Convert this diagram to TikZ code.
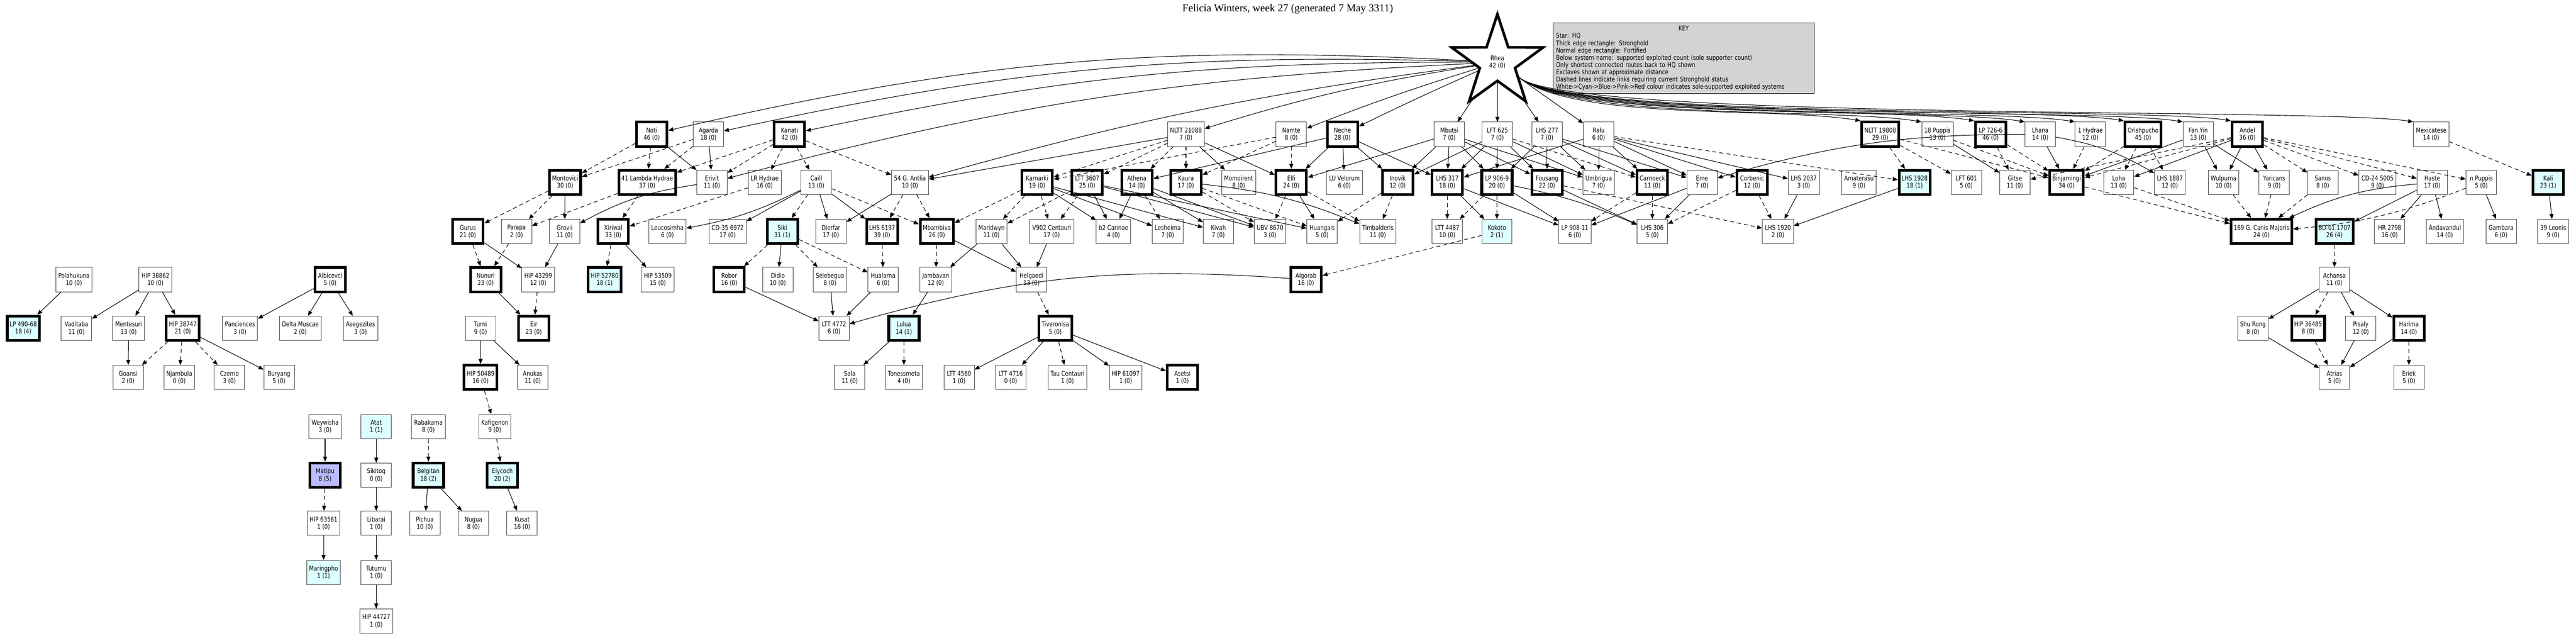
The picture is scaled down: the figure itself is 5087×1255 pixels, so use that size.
\documentclass[tikz,border=0pt]{standalone}
\usepackage{fontspec}
\setmainfont{Liberation Serif}
\newfontfamily\sysfont{DejaVu Sans}[FakeStretch=0.82]
\usetikzlibrary{arrows.meta, shapes.geometric}

\definecolor{solecyan}{HTML}{DDFFFF}
\definecolor{soleblue}{HTML}{BBBBFF}
\definecolor{keygrey}{HTML}{D3D3D3}

\begin{document}
\begin{tikzpicture}[
    x=0.5pt, y=-0.5pt,
    every node/.style={font=\sysfont\fontsize{6.5}{7.2}\selectfont, align=center},
    sys/.style={draw=black!75, line width=0.5pt, fill=white, rectangle,
        minimum width=30pt, minimum height=24pt, inner sep=2.5pt},
    strong/.style={sys, draw=black, line width=2.6pt},
    cyanfill/.style={fill=solecyan},
    bluefill/.style={fill=soleblue},
    hq/.style={star, star points=5, star point ratio=2.6, draw, line width=2.6pt,
        fill=white, minimum size=95pt, inner sep=0pt},
    link/.style={-{Triangle[length=5pt,width=4pt]}, line width=0.55pt},
    dlink/.style={link, dash pattern=on 4pt off 3pt},
]
  \useasboundingbox (0,0) rectangle (5087,1255);

  % TITLE AND KEY
  \node[font=\fontsize{10.5}{12}\selectfont] (title) at (2543,18)
    {Felicia Winters, week 27 (generated 7 May 3311)};
  \node[draw, fill=keygrey, line width=0.5pt, align=left, text width=252pt,
        minimum height=65pt, inner sep=3pt] (key) at (3325,115)
    {\makebox[252pt]{KEY}\\
     Star: HQ\\
     Thick edge rectangle: Stronghold\\
     Normal edge rectangle: Fortified\\
     Below system name: supported exploited count (sole supporter count)\\
     Only shortest connected routes back to HQ shown\\
     Exclaves shown at approximate distance\\
     Dashed lines indicate links requiring current Stronghold status\\
     White->Cyan->Blue->Pink->Red colour indicates sole-supported exploited systems};

  \node[hq] (rhea) at (2957,123) {Rhea\\42 (0)};

  % FIRST RING
  \node[strong] (noti) at (1287,265) {Noti\\46 (0)};
  \node[sys] (agarda) at (1399,265) {Agarda\\18 (0)};
  \node[strong] (kanati) at (1559,265) {Kanati\\42 (0)};
  \node[sys] (nlttA) at (2342,265) {NLTT 21088\\7 (0)};
  \node[sys] (namte) at (2550,265) {Namte\\8 (0)};
  \node[strong] (neche) at (2651,265) {Neche\\28 (0)};
  \node[sys] (mbutsi) at (2862,265) {Mbutsi\\7 (0)};
  \node[sys] (lft625) at (2957,265) {LFT 625\\7 (0)};
  \node[sys] (lhs277) at (3055,265) {LHS 277\\7 (0)};
  \node[sys] (ralu) at (3157,265) {Ralu\\6 (0)};
  \node[strong] (nlttB) at (3713,265) {NLTT 19808\\29 (0)};
  \node[sys] (pup18) at (3826,265) {18 Puppis\\13 (0)};
  \node[strong] (lp726) at (3931,265) {LP 726-6\\46 (0)};
  \node[sys] (lhana) at (4029,265) {Lhana\\14 (0)};
  \node[sys] (hyd1) at (4128,265) {1 Hydrae\\12 (0)};
  \node[strong] (orish) at (4232,265) {Orishpucho\\45 (0)};
  \node[sys] (fanyin) at (4341,265) {Fan Yin\\13 (0)};
  \node[strong] (andel) at (4438,265) {Andel\\36 (0)};
  \node[sys] (mexi) at (4801,265) {Mexicatese\\14 (0)};

  % SECOND RING
  \node[strong] (montovici) at (1116,360) {Montovici\\30 (0)};
  \node[strong] (lambda) at (1278,360) {41 Lambda Hydrae\\37 (0)};
  \node[sys] (erivit) at (1406,360) {Erivit\\11 (0)};
  \node[sys] (lrhyd) at (1510,360) {LR Hydrae\\16 (0)};
  \node[sys] (caill) at (1612,360) {Caill\\13 (0)};
  \node[sys] (antlia) at (1797,360) {54 G. Antlia\\10 (0)};
  \node[strong] (karnarki) at (2048,360) {Karnarki\\19 (0)};
  \node[strong] (ltt3607) at (2147,360) {LTT 3607\\25 (0)};
  \node[strong] (athena) at (2245,360) {Athena\\14 (0)};
  \node[strong] (kaura) at (2342,360) {Kaura\\17 (0)};
  \node[sys] (momoirent) at (2446,360) {Momoirent\\8 (0)};
  \node[strong] (elli) at (2550,360) {Elli\\24 (0)};
  \node[sys] (luvel) at (2655,360) {LU Velorum\\6 (0)};
  \node[strong] (inovik) at (2760,360) {Inovik\\12 (0)};
  \node[strong] (lhs317) at (2858,360) {LHS 317\\18 (0)};
  \node[strong] (lp906) at (2956,360) {LP 906-9\\20 (0)};
  \node[strong] (fousang) at (3055,360) {Fousang\\22 (0)};
  \node[sys] (umbrigua) at (3157,360) {Umbrigua\\7 (0)};
  \node[strong] (carnoeck) at (3263,360) {Carnoeck\\11 (0)};
  \node[sys] (eme) at (3361,360) {Eme\\7 (0)};
  \node[strong] (corbenic) at (3460,360) {Corbenic\\12 (0)};
  \node[sys] (lhs2037) at (3562,360) {LHS 2037\\3 (0)};
  \node[sys] (amaterasu) at (3671,360) {Amaterasu\\9 (0)};
  \node[strong, cyanfill] (lhs1928) at (3781,360) {LHS 1928\\18 (1)};
  \node[sys] (lft601) at (3883,360) {LFT 601\\5 (0)};
  \node[sys] (gitse) at (3979,360) {Gitse\\11 (0)};
  \node[strong] (binjamingi) at (4081,360) {Binjamingi\\34 (0)};
  \node[sys] (loha) at (4184,360) {Loha\\13 (0)};
  \node[sys] (lhs1887) at (4285,360) {LHS 1887\\12 (0)};
  \node[sys] (wulpurna) at (4391,360) {Wulpurna\\10 (0)};
  \node[sys] (yaricans) at (4491,360) {Yaricans\\9 (0)};
  \node[sys] (sanos) at (4587,360) {Sanos\\8 (0)};
  \node[sys] (cd24) at (4695,360) {CD-24 5005\\9 (0)};
  \node[sys] (haste) at (4803,360) {Haste\\17 (0)};
  \node[sys] (npup) at (4900,360) {n Puppis\\5 (0)};
  \node[strong, cyanfill] (kali) at (5032,360) {Kali\\23 (1)};

  % THIRD RING
  \node[strong] (gurus) at (924,457) {Gurus\\21 (0)};
  \node[sys] (parapa) at (1020,457) {Parapa\\2 (0)};
  \node[sys] (grovii) at (1115,457) {Grovii\\11 (0)};
  \node[strong] (xiriwal) at (1211,457) {Xiriwal\\33 (0)};
  \node[sys] (leuco) at (1318,457) {Leucosimha\\6 (0)};
  \node[sys] (cd35) at (1437,457) {CD-35 6972\\17 (0)};
  \node[strong, cyanfill] (siki) at (1545,457) {Siki\\31 (1)};
  \node[sys] (dierfar) at (1641,457) {Dierfar\\17 (0)};
  \node[strong] (lhs6197) at (1742,457) {LHS 6197\\39 (0)};
  \node[strong] (mbambiva) at (1850,457) {Mbambiva\\26 (0)};
  \node[sys] (maridwyn) at (1958,457) {Maridwyn\\11 (0)};
  \node[sys] (v902) at (2077,457) {V902 Centauri\\17 (0)};
  \node[sys] (carinae) at (2199,457) {b2 Carinae\\4 (0)};
  \node[sys] (lesheima) at (2306,457) {Lesheima\\7 (0)};
  \node[sys] (kivah) at (2406,457) {Kivah\\7 (0)};
  \node[sys] (ubv) at (2508,457) {UBV 8670\\3 (0)};
  \node[sys] (huangais) at (2611,457) {Huangais\\5 (0)};
  \node[sys] (timbal) at (2721,457) {Timbalderis\\11 (0)};
  \node[sys] (ltt4487) at (2858,457) {LTT 4487\\10 (0)};
  \node[sys, cyanfill] (kokoto) at (2956,457) {Kokoto\\2 (1)};
  \node[sys] (lp908) at (3110,457) {LP 908-11\\6 (0)};
  \node[sys] (lhs306) at (3263,457) {LHS 306\\5 (0)};
  \node[sys] (lhs1920) at (3511,457) {LHS 1920\\2 (0)};
  \node[strong] (canis) at (4466,457) {169 G. Canis Majoris\\24 (0)};
  \node[strong, cyanfill] (bd01) at (4610,457) {BD-01 1707\\26 (4)};
  \node[sys] (hr2798) at (4719,457) {HR 2798\\16 (0)};
  \node[sys] (andav) at (4828,457) {Andavandul\\14 (0)};
  \node[sys] (gambara) at (4939,457) {Gambara\\6 (0)};
  \node[sys] (leonis) at (5042,457) {39 Leonis\\9 (0)};

  % FOURTH RING
  \node[sys] (polahukuna) at (146,552) {Polahukuna\\10 (0)};
  \node[sys] (hip38862) at (307,552) {HIP 38862\\10 (0)};
  \node[strong] (albicevci) at (652,552) {Albicevci\\5 (0)};
  \node[strong] (nunuri) at (959,552) {Nunuri\\23 (0)};
  \node[sys] (hip43299) at (1063,552) {HIP 43299\\12 (0)};
  \node[strong, cyanfill] (hip52780) at (1194,552) {HIP 52780\\18 (1)};
  \node[sys] (hip53509) at (1299,552) {HIP 53509\\15 (0)};
  \node[strong] (robor) at (1440,552) {Robor\\16 (0)};
  \node[sys] (didio) at (1536,552) {Didio\\10 (0)};
  \node[sys] (selebegua) at (1639,552) {Selebegua\\8 (0)};
  \node[sys] (hualarna) at (1744,552) {Hualarna\\6 (0)};
  \node[sys] (jambavan) at (1848,552) {Jambavan\\12 (0)};
  \node[sys] (helgaedi) at (2037,552) {Helgaedi\\13 (0)};
  \node[strong] (algorab) at (2579,552) {Algorab\\16 (0)};
  \node[sys] (achansa) at (4610,552) {Achansa\\11 (0)};

  % FIFTH RING
  \node[strong, cyanfill] (lp490) at (46,648) {LP 490-68\\18 (4)};
  \node[sys] (vaditaba) at (151,648) {Vaditaba\\11 (0)};
  \node[sys] (mentesuri) at (254,648) {Mentesuri\\13 (0)};
  \node[strong] (hip38747) at (361,648) {HIP 38747\\21 (0)};
  \node[sys] (panciences) at (474,648) {Panciences\\3 (0)};
  \node[sys] (deltamus) at (593,648) {Delta Muscae\\2 (0)};
  \node[sys] (asegezites) at (712,648) {Asegezites\\3 (0)};
  \node[sys] (turni) at (949,648) {Turni\\9 (0)};
  \node[strong] (eir) at (1054,648) {Eir\\23 (0)};
  \node[sys] (ltt4772) at (1647,648) {LTT 4772\\6 (0)};
  \node[strong, cyanfill] (lulua) at (1785,648) {Lulua\\14 (1)};
  \node[strong] (tiveronisa) at (2084,648) {Tiveronisa\\5 (0)};
  \node[sys] (shurong) at (4449,648) {Shu Rong\\8 (0)};
  \node[strong] (hip36485) at (4558,648) {HIP 36485\\8 (0)};
  \node[sys] (pisaly) at (4662,648) {Pisaly\\12 (0)};
  \node[strong] (harima) at (4757,648) {Harima\\14 (0)};

  % SIXTH RING AND BELOW
  \node[sys] (goansi) at (253,745) {Goansi\\2 (0)};
  \node[sys] (njambula) at (354,745) {Njambula\\0 (0)};
  \node[sys] (czerno) at (453,745) {Czerno\\3 (0)};
  \node[sys] (buryang) at (551,745) {Buryang\\5 (0)};
  \node[strong] (hip50489) at (949,745) {HIP 50489\\16 (0)};
  \node[sys] (anukas) at (1052,745) {Anukas\\11 (0)};
  \node[sys] (sala) at (1678,745) {Sala\\11 (0)};
  \node[sys] (tonessmeta) at (1785,745) {Tonessmeta\\4 (0)};
  \node[sys] (ltt4560) at (1894,745) {LTT 4560\\1 (0)};
  \node[sys] (ltt4716) at (1996,745) {LTT 4716\\0 (0)};
  \node[sys] (taucen) at (2108,745) {Tau Centauri\\1 (0)};
  \node[sys] (hip61097) at (2223,745) {HIP 61097\\1 (0)};
  \node[strong] (asetsi) at (2335,745) {Asetsi\\1 (0)};
  \node[sys] (atrias) at (4610,745) {Atrias\\5 (0)};
  \node[sys] (eriek) at (4757,745) {Eriek\\5 (0)};

  \node[sys] (weywisha) at (642,842) {Weywisha\\3 (0)};
  \node[sys, cyanfill] (atat) at (743,842) {Atat\\1 (1)};
  \node[sys] (rabakama) at (846,842) {Rabakama\\8 (0)};
  \node[sys] (kafigenon) at (977,842) {Kafigenon\\9 (0)};
  \node[strong, bluefill] (matipu) at (642,938) {Matipu\\8 (5)};
  \node[sys] (sikitoq) at (743,938) {Sikitoq\\0 (0)};
  \node[strong, cyanfill] (belgitan) at (846,938) {Belgitan\\18 (2)};
  \node[strong, cyanfill] (elycoch) at (992,938) {Elycoch\\20 (2)};
  \node[sys] (hip63581) at (639,1033) {HIP 63581\\1 (0)};
  \node[sys] (libarai) at (743,1033) {Libarai\\1 (0)};
  \node[sys] (pichua) at (839,1033) {Pichua\\10 (0)};
  \node[sys] (nugua) at (935,1033) {Nugua\\8 (0)};
  \node[sys] (kusat) at (1031,1033) {Kusat\\16 (0)};
  \node[sys, cyanfill] (maringpho) at (639,1130) {Maringpho\\1 (1)};
  \node[sys] (tutumu) at (743,1130) {Tutumu\\1 (0)};
  \node[sys] (hip44727) at (743,1226) {HIP 44727\\1 (0)};

  % LINKS FROM HQ
  \foreach \t/\b in {noti/8, agarda/7, kanati/6, nlttA/4, namte/2, neche/1}
    \draw[link] (rhea) to[bend right=\b] (\t);
  \foreach \t in {mbutsi, lft625, lhs277, ralu}
    \draw[link] (rhea) -- (\t);
  \foreach \t in {nlttB, pup18, lp726, lhana, hyd1, orish, fanyin, andel, mexi}
    \draw[link] (rhea.-35) .. controls +(110,85) and +(-170,-28) .. (\t.north west);
  \draw[link] (rhea) to[bend right=6] (erivit);
  \draw[link] (rhea) to[bend right=4] (antlia);

  % FIRST TO SECOND RING
  \foreach \s in {noti, agarda} {
    \draw[dlink] (\s) -- (montovici);
    \draw[dlink] (\s) -- (lambda);
    \draw[link] (\s) -- (erivit);
  }
  \foreach \t in {lambda, erivit, lrhyd, caill, antlia}
    \draw[dlink] (kanati) -- (\t);
  \draw[link] (nlttA) -- (antlia);
  \foreach \t in {karnarki, ltt3607, athena, kaura}
    \draw[dlink] (nlttA) -- (\t);
  \draw[link] (nlttA) -- (momoirent);
  \draw[link] (nlttA) -- (elli);
  \foreach \t in {karnarki, kaura, elli}
    \draw[dlink] (namte) -- (\t);
  \foreach \t in {athena, elli, luvel, inovik, lhs317}
    \draw[link] (neche) -- (\t);
  \foreach \t in {elli, inovik, lhs317, lp906, fousang, umbrigua}
    \draw[link] (mbutsi) -- (\t);
  \foreach \t in {inovik, lhs317, lp906, fousang, umbrigua}
    \draw[link] (lft625) -- (\t);
  \draw[dlink] (lft625) -- (carnoeck);
  \foreach \t in {lp906, fousang, umbrigua, carnoeck, eme}
    \draw[link] (lhs277) -- (\t);
  \foreach \t in {lhs317, umbrigua, carnoeck, eme, corbenic, lhs2037}
    \draw[link] (ralu) -- (\t);
  \draw[dlink] (ralu) -- (lhs1928);
  \draw[dlink] (nlttB) -- (lhs1928);
  \draw[dlink] (nlttB) -- (lft601);
  \draw[dlink] (nlttB) -- (binjamingi);
  \draw[link] (pup18) -- (gitse);
  \draw[dlink] (pup18) -- (binjamingi);
  \draw[dlink] (lp726) -- (gitse);
  \draw[dlink] (lp726) -- (binjamingi);
  \draw[link] (lhana) -- (binjamingi);
  \draw[link] (lhana) to[bend right=8] (eme);
  \draw[link] (lhana) to[bend left=10] (lhs1887);
  \draw[dlink] (hyd1) -- (binjamingi);
  \draw[dlink] (orish) -- (binjamingi);
  \draw[dlink] (orish) -- (loha);
  \draw[dlink] (orish) -- (lhs1887);
  \draw[link] (fanyin) -- (binjamingi);
  \draw[link] (fanyin) -- (wulpurna);
  \draw[link] (fanyin) -- (yaricans);
  \foreach \t in {loha, wulpurna, yaricans}
    \draw[link] (andel) -- (\t);
  \foreach \t in {binjamingi, gitse, sanos, cd24, haste, npup}
    \draw[dlink] (andel) -- (\t);
  \draw[dlink] (mexi) -- (kali);

  % SECOND TO THIRD RING
  \draw[dlink] (montovici) -- (gurus);
  \draw[dlink] (montovici) -- (parapa);
  \draw[link] (montovici) -- (grovii);
  \draw[dlink] (lambda) -- (parapa);
  \draw[dlink] (lambda) -- (xiriwal);
  \draw[link] (erivit) to[bend right=10] (grovii);
  \draw[dlink] (lrhyd) -- (xiriwal);
  \draw[link] (caill) to[bend left=8] (leuco);
  \draw[link] (caill) -- (cd35);
  \draw[dlink] (caill) -- (siki);
  \draw[link] (caill) -- (dierfar);
  \draw[link] (caill) -- (lhs6197);
  \draw[dlink] (caill) -- (mbambiva);
  \draw[link] (antlia) -- (dierfar);
  \draw[dlink] (antlia) -- (lhs6197);
  \draw[dlink] (antlia) -- (mbambiva);
  \foreach \t in {mbambiva, maridwyn, v902}
    \draw[dlink] (karnarki) -- (\t);
  \foreach \t in {carinae, lesheima, kivah}
    \draw[link] (karnarki) -- (\t);
  \draw[dlink] (ltt3607) -- (maridwyn);
  \draw[dlink] (ltt3607) -- (v902);
  \foreach \t in {carinae, ubv, huangais}
    \draw[link] (ltt3607) -- (\t);
  \draw[link] (athena) -- (carinae);
  \draw[link] (athena) -- (kivah);
  \draw[link] (athena) -- (ubv);
  \draw[dlink] (athena) -- (lesheima);
  \draw[dlink] (kaura) -- (ubv);
  \draw[dlink] (kaura) -- (huangais);
  \draw[link] (kaura) to[bend left=8] (timbal);
  \draw[dlink] (elli) -- (ubv);
  \draw[link] (elli) -- (huangais);
  \draw[dlink] (elli) -- (timbal);
  \draw[dlink] (inovik) -- (huangais);
  \draw[dlink] (inovik) -- (timbal);
  \draw[dlink] (lhs317) -- (ltt4487);
  \draw[link] (lhs317) -- (kokoto);
  \draw[link] (lhs317) -- (lp908);
  \draw[dlink] (lp906) -- (ltt4487);
  \draw[dlink] (lp906) -- (kokoto);
  \draw[link] (lp906) -- (lp908);
  \draw[link] (lp906) to[bend left=6] (lhs306);
  \draw[link] (fousang) -- (lhs306);
  \draw[dlink] (fousang) -- (lhs1920);
  \draw[dlink] (carnoeck) -- (lp908);
  \draw[dlink] (carnoeck) -- (lhs306);
  \draw[link] (eme) -- (lp908);
  \draw[link] (eme) -- (lhs306);
  \draw[dlink] (corbenic) -- (lhs306);
  \draw[dlink] (corbenic) -- (lhs1920);
  \draw[link] (lhs2037) -- (lhs1920);
  \draw[link] (lhs1928) -- (lhs1920);
  \foreach \t in {binjamingi, loha, wulpurna, yaricans, sanos}
    \draw[dlink] (\t) -- (canis);
  \draw[link] (haste) to[bend right=10] (canis);
  \draw[link] (haste) -- (bd01);
  \draw[link] (haste) -- (hr2798);
  \draw[link] (haste) -- (andav);
  \draw[dlink] (npup) to[bend left=8] (canis);
  \draw[link] (npup) -- (gambara);
  \draw[link] (kali) -- (leonis);

  % DEEPER RINGS
  \draw[dlink] (gurus) -- (nunuri);
  \draw[link] (gurus) -- (hip43299);
  \draw[dlink] (parapa) -- (nunuri);
  \draw[link] (grovii) -- (hip43299);
  \draw[dlink] (xiriwal) -- (hip52780);
  \draw[link] (xiriwal) -- (hip53509);
  \draw[dlink] (siki) -- (robor);
  \draw[link] (siki) -- (didio);
  \draw[dlink] (siki) -- (selebegua);
  \draw[dlink] (siki) -- (hualarna);
  \draw[dlink] (lhs6197) -- (hualarna);
  \draw[dlink] (mbambiva) -- (jambavan);
  \draw[link] (mbambiva) -- (helgaedi);
  \draw[link] (maridwyn) -- (jambavan);
  \draw[link] (maridwyn) -- (helgaedi);
  \draw[link] (v902) -- (helgaedi);
  \draw[dlink] (kokoto) -- (algorab);
  \draw[link] (nunuri) -- (eir);
  \draw[dlink] (hip43299) -- (eir);
  \foreach \s in {robor, selebegua, hualarna}
    \draw[link] (\s) -- (ltt4772);
  \draw[link] (algorab) to[bend right=10] (ltt4772);
  \draw[link] (jambavan) -- (lulua);
  \draw[dlink] (helgaedi) -- (tiveronisa);
  \draw[link] (lulua) -- (sala);
  \draw[dlink] (lulua) -- (tonessmeta);
  \draw[link] (tiveronisa) -- (ltt4560);
  \draw[link] (tiveronisa) -- (ltt4716);
  \draw[dlink] (tiveronisa) -- (taucen);
  \draw[link] (tiveronisa) -- (hip61097);
  \draw[link] (tiveronisa) -- (asetsi);
  \draw[dlink] (bd01) -- (achansa);
  \draw[link] (achansa) -- (shurong);
  \draw[dlink] (achansa) -- (hip36485);
  \draw[link] (achansa) -- (pisaly);
  \draw[link] (achansa) -- (harima);
  \draw[link] (shurong) -- (atrias);
  \draw[dlink] (hip36485) -- (atrias);
  \draw[link] (pisaly) -- (atrias);
  \draw[link] (harima) -- (atrias);
  \draw[dlink] (harima) -- (eriek);

  % EXCLAVES
  \draw[link] (polahukuna) -- (lp490);
  \foreach \t in {vaditaba, mentesuri, hip38747}
    \draw[link] (hip38862) -- (\t);
  \foreach \t in {panciences, deltamus, asegezites}
    \draw[link] (albicevci) -- (\t);
  \draw[link] (mentesuri) -- (goansi);
  \foreach \t in {goansi, njambula, czerno}
    \draw[dlink] (hip38747) -- (\t);
  \draw[link] (hip38747) -- (buryang);
  \draw[link] (turni) -- (hip50489);
  \draw[link] (turni) -- (anukas);
  \draw[dlink] (hip50489) -- (kafigenon);
  \draw[dlink] (kafigenon) -- (elycoch);
  \draw[link] (elycoch) -- (kusat);
  \draw[link] (weywisha) -- (matipu);
  \draw[dlink] (matipu) -- (hip63581);
  \draw[link] (hip63581) -- (maringpho);
  \draw[link] (atat) -- (sikitoq);
  \draw[link] (sikitoq) -- (libarai);
  \draw[link] (libarai) -- (tutumu);
  \draw[link] (tutumu) -- (hip44727);
  \draw[dlink] (rabakama) -- (belgitan);
  \draw[link] (belgitan) -- (pichua);
  \draw[link] (belgitan) -- (nugua);

\end{tikzpicture}
\end{document}
